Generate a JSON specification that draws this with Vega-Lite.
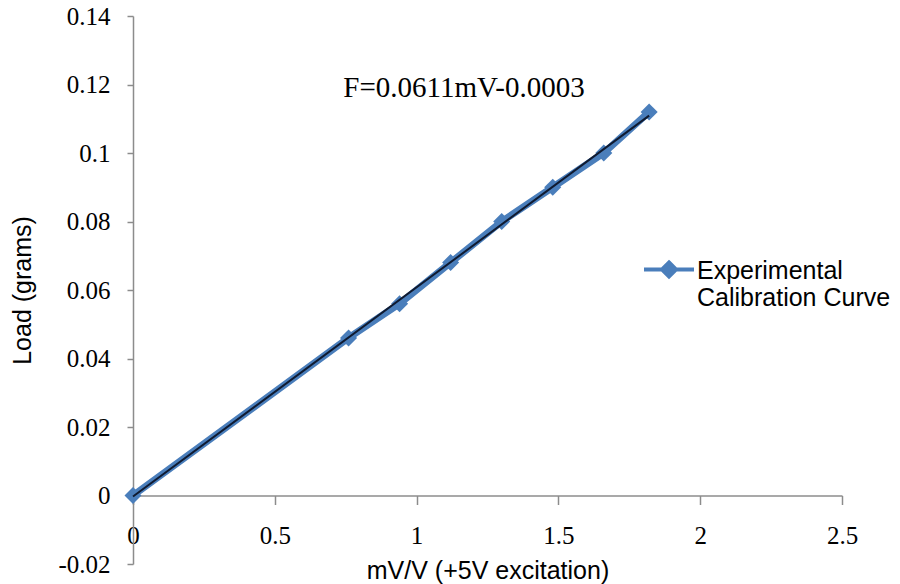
{
  "$schema": "https://vega.github.io/schema/vega-lite/v6.json",
  "width": 709,
  "height": 548,
  "autosize": {"type": "none"},
  "padding": {"left": 133, "top": 16, "right": 58, "bottom": 20},
  "background": "white",
  "config": {"view": {"stroke": null}},
  "datasets": {
    "exp": [
      {"mv": 0, "load": 0, "series": "Experimental Calibration Curve"},
      {"mv": 0.76, "load": 0.046, "series": "Experimental Calibration Curve"},
      {"mv": 0.94, "load": 0.056, "series": "Experimental Calibration Curve"},
      {"mv": 1.12, "load": 0.068, "series": "Experimental Calibration Curve"},
      {"mv": 1.3, "load": 0.08, "series": "Experimental Calibration Curve"},
      {"mv": 1.48, "load": 0.09, "series": "Experimental Calibration Curve"},
      {"mv": 1.66, "load": 0.1, "series": "Experimental Calibration Curve"},
      {"mv": 1.82, "load": 0.112, "series": "Experimental Calibration Curve"}
    ],
    "trend": [
      {"mv": 0, "load": -0.0003},
      {"mv": 1.82, "load": 0.1109}
    ],
    "eq": [
      {"mv": 1.167, "load": 0.1191, "label": "F=0.0611mV-0.0003"}
    ]
  },
  "encoding": {
    "x": {
      "field": "mv", "type": "quantitative",
      "scale": {"domain": [0, 2.5], "nice": false, "zero": false},
      "axis": {
        "title": "mV/V (+5V excitation)",
        "values": [0, 0.5, 1, 1.5, 2, 2.5],
        "format": "~g",
        "grid": false,
        "offset": -68.5,
        "domainColor": "#8c8c8c",
        "domainWidth": 1.5,
        "tickColor": "#8c8c8c",
        "tickWidth": 1.5,
        "tickSize": 9,
        "labelFont": "Liberation Serif",
        "labelFontSize": 25,
        "labelColor": "black",
        "labelPadding": 19,
        "labelFlush": false,
        "titleFont": "Liberation Sans",
        "titleFontSize": 25,
        "titleFontWeight": "normal",
        "titleColor": "black",
        "titleY": 75,
        "titleBaseline": "middle"
      }
    },
    "y": {
      "field": "load", "type": "quantitative",
      "scale": {"domain": [-0.02, 0.14], "nice": false, "zero": false},
      "axis": {
        "title": "Load (grams)",
        "values": [-0.02, 0, 0.02, 0.04, 0.06, 0.08, 0.1, 0.12, 0.14],
        "labelExpr": "datum.value < 0 ? '-' + format(-datum.value, '') : format(datum.value, '')",
        "grid": false,
        "domainColor": "#8c8c8c",
        "domainWidth": 1.5,
        "tickColor": "#8c8c8c",
        "tickWidth": 1.5,
        "tickSize": 6,
        "labelFont": "Liberation Serif",
        "labelFontSize": 25,
        "labelColor": "black",
        "labelPadding": 17,
        "labelFlush": false,
        "titleFont": "Liberation Sans",
        "titleFontSize": 25,
        "titleFontWeight": "normal",
        "titleColor": "black",
        "titleAngle": -90,
        "titleX": -111,
        "titleY": 274,
        "titleAlign": "center",
        "titleBaseline": "middle"
      }
    }
  },
  "layer": [
    {
      "data": {"name": "exp"},
      "mark": {"type": "line", "strokeWidth": 7},
      "encoding": {
        "color": {
          "field": "series", "type": "nominal",
          "scale": {"range": ["#4a7ebb"]},
          "legend": {
            "orient": "none",
            "legendX": 509,
            "legendY": 228,
            "title": null,
            "padding": 0,
            "symbolType": "M-1,-0.06L1,-0.06M0,-0.34L0.28,-0.06L0,0.22L-0.28,-0.06Z",
            "symbolSize": 2500,
            "symbolStrokeWidth": 4,
            "symbolFillColor": "#4a7ebb",
            "symbolStrokeColor": "#4a7ebb",
            "labelExpr": "['Experimental', 'Calibration Curve']",
            "labelFont": "Liberation Sans",
            "labelFontSize": 25,
            "labelColor": "black",
            "labelOffset": 1,
            "labelLimit": 400
          }
        }
      }
    },
    {
      "data": {"name": "exp"},
      "mark": {"type": "point", "shape": "diamond", "size": 290, "filled": true, "opacity": 1},
      "encoding": {
        "color": {"field": "series", "type": "nominal"}
      }
    },
    {
      "data": {"name": "trend"},
      "mark": {"type": "line", "strokeWidth": 2, "color": "#0f1a30"},
      "encoding": {}
    },
    {
      "data": {"name": "eq"},
      "mark": {"type": "text", "font": "Liberation Serif", "fontSize": 29, "color": "black", "align": "center", "baseline": "middle"},
      "encoding": {"text": {"field": "label"}}
    }
  ]
}
